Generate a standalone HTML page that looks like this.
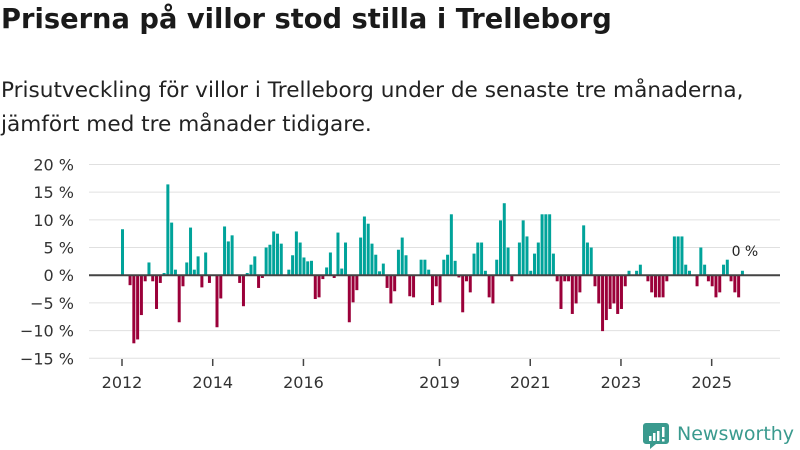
<!DOCTYPE html>
<html><head><meta charset="utf-8">
<style>
body{margin:0;width:800px;height:450px;background:#fff;overflow:hidden;font-family:"DejaVu Sans","Liberation Sans",sans-serif;color:#1a1a1a}
h1{position:absolute;left:1px;top:4px;margin:0;font-size:27.3px;font-weight:bold;letter-spacing:0;white-space:nowrap}
p{position:absolute;left:1px;top:74px;margin:0;font-size:21.6px;line-height:34px;color:#222;white-space:nowrap;letter-spacing:0}
svg{position:absolute;left:0;top:0}
</style></head><body>
<h1>Priserna på villor stod stilla i Trelleborg</h1>
<p>Prisutveckling för villor i Trelleborg under de senaste tre månaderna,<br>jämfört med tre månader tidigare.</p>
<svg id="chart" width="800" height="450" font-family="DejaVu Sans, Liberation Sans, sans-serif"></svg>
<script>
const values = [8.3,0,-1.8,-12.3,-11.6,-7.2,-1.1,2.3,-1.1,-6.1,-1.4,0.4,16.4,9.5,1.0,-8.5,-2.0,2.3,8.6,1.0,3.4,-2.2,4.1,-1.4,
0,-9.4,-4.2,8.8,6.1,7.2,0,-1.4,-5.6,0.4,1.9,3.4,-2.3,-0.5,5.0,5.5,7.9,7.5,5.7,0,1.0,3.6,7.9,5.9,
3.2,2.5,2.6,-4.3,-4.0,-0.7,1.4,4.1,-0.5,7.7,1.2,5.9,-8.5,-4.9,-2.7,6.8,10.6,9.3,5.7,3.7,0.7,2.1,-2.3,-5.1,
-2.9,4.6,6.8,3.6,-3.8,-4.0,0,2.8,2.8,1.0,-5.4,-2.0,-4.9,2.8,3.7,11.0,2.6,-0.4,-6.7,-1.1,-3.1,3.9,5.9,5.9,
0.8,-4.0,-5.1,2.8,9.9,13.0,5.0,-1.1,0,5.9,9.9,7.0,0.8,3.9,5.9,11.0,11.0,11.0,3.9,-1.1,-6.1,-1.1,-1.1,-7.0,
-5.1,-3.1,9.0,5.9,5.0,-2.0,-5.1,-10.1,-8.1,-6.1,-5.1,-7.0,-6.1,-2.0,0.8,0,0.8,1.9,0,-1.1,-3.1,-4.0,-4.0,-4.0,
-1.1,0,7.0,7.0,7.0,1.9,0.8,0,-2.0,5.0,1.9,-1.1,-2.0,-4.0,-3.1,1.9,2.8,-1.1,-3.1,-4.0,0.8];
const yTicks = [20,15,10,5,0,-5,-10,-15];
const yearLabels = ["2012","2014","2016","2019","2021","2023","2025"];
const yearIndex = [0,24,48,84,108,132,156];
const lastLabel = "0 %";

const NS="http://www.w3.org/2000/svg";
const svg=document.getElementById('chart');
const x0=121, step=3.78, barW=3;
const y=v=>275.2 - v*5.537;
const x=i=>x0+i*step;
function mk(t,a){const e=document.createElementNS(NS,t);for(const k in a)e.setAttribute(k,a[k]);svg.appendChild(e);return e;}
yTicks.forEach(t=>{
  const g=mk('line',{x1:89,x2:780,y1:y(t),y2:y(t),stroke:'#e0e0e0','stroke-width':1});
  
  
  const l=mk('text',{x:74,y:y(t)+6,'text-anchor':'end','font-size':16,fill:'#333'});
  l.textContent=(t<0?'\u2212'+(-t):t)+' %';
  
  
});
values.forEach((v,i)=>{
  if(v===0)return;
  const r=mk('rect',{x:x(i),width:barW,y:Math.min(y(v),y(0)),height:Math.abs(y(v)-y(0)),fill:v>0?'#00a39a':'#9b0039'});
  
  
});
const z=mk('line',{x1:89,x2:780,y1:y(0),y2:y(0),stroke:'#444','stroke-width':2});


yearLabels.forEach((s,k)=>{
  const cx=x(yearIndex[k])+1;
  const tk=mk('line',{x1:cx,x2:cx,y1:359,y2:366,stroke:'#444','stroke-width':1.5});
  
  
  const t=mk('text',{x:cx,y:388,'text-anchor':'middle','font-size':16,fill:'#333'});
  t.textContent=s;
  
  
});
const last=values.length-1;
const an=mk('text',{x:x(last)+4,y:y(values[last])-15,'text-anchor':'middle','font-size':14,fill:'#222'});
an.textContent=lastLabel;


</script>
<svg width="800" height="450" style="pointer-events:none">
  <path d="M646 423 h20 a3 3 0 0 1 3 3 v15 a3 3 0 0 1 -3 3 h-10 l-6 5 v-5 h-4 a3 3 0 0 1 -3 -3 v-15 a3 3 0 0 1 3 -3z" fill="#3a9a8e"/>
  <rect x="649" y="436" width="2.5" height="5" fill="#fff"/><rect x="653" y="433" width="2.5" height="8" fill="#fff"/><rect x="657" y="431" width="2.5" height="10" fill="#fff"/><rect x="662" y="427" width="2.5" height="10" fill="#fff"/><rect x="662" y="439" width="2.5" height="2.5" fill="#fff"/>
  <text x="677" y="440" font-size="19" fill="#3a9a8e" font-family="DejaVu Sans, Liberation Sans, sans-serif">Newsworthy</text>
</svg>
</body></html>
